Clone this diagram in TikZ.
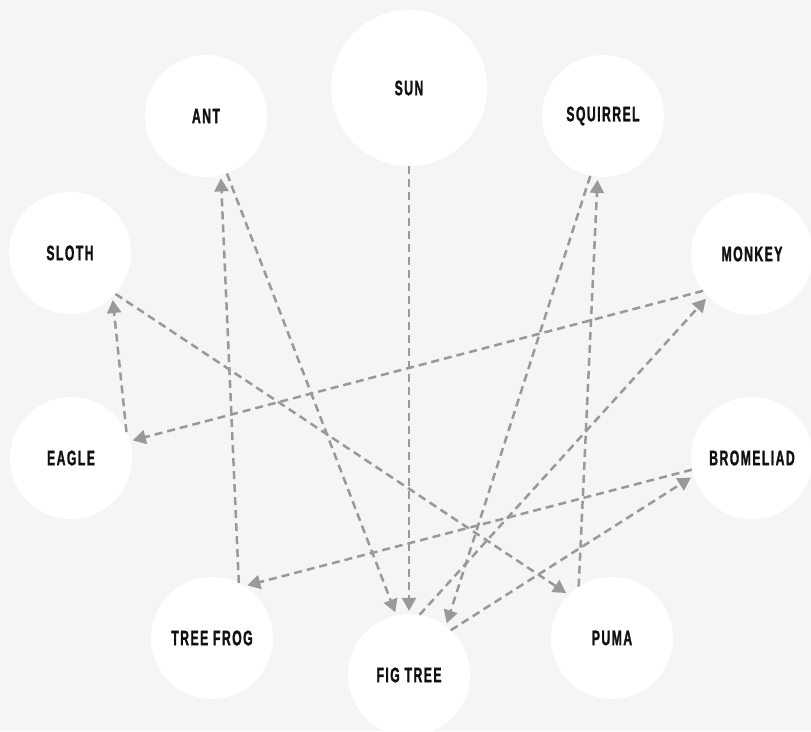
\documentclass[tikz,border=0pt]{standalone}
\usepackage{fontspec}
\setmainfont{Liberation Sans}[FakeStretch=0.58, LetterSpace=7, BoldFeatures={FakeBold=1.3}]
\usetikzlibrary{arrows.meta}
\definecolor{bg}{HTML}{F5F5F5}
\definecolor{edgegray}{HTML}{999999}
\definecolor{ink}{HTML}{111111}
\begin{document}
\begin{tikzpicture}[x=1pt,y=-1pt,
  animal/.style={circle, fill=white, inner sep=0pt, minimum size=122pt,
    font=\bfseries\fontsize{21}{21}\selectfont, text=ink},
  link/.style={draw=edgegray, line width=2.5pt, dash pattern=on 8pt off 5pt,
    -{Triangle[length=13pt,width=14pt]}, shorten >=3pt}]
\fill[bg] (0,0) rectangle (811,731);
\useasboundingbox (0,0) rectangle (811,731);
\node[animal, minimum size=156pt] (sun) at (409,88) {SUN};
\node[animal] (ant) at (206,116) {ANT};
\node[animal] (squirrel) at (603,116) {SQUIRREL};
\node[animal] (sloth) at (70,253) {SLOTH};
\node[animal] (monkey) at (752,254) {MONKEY};
\node[animal] (eagle) at (71,458) {EAGLE};
\node[animal] (brom) at (752,458) {BROMELIAD};
\node[animal] (tf) at (212,638) {TREE FROG};
\node[animal] (puma) at (612,638) {PUMA};
\node[animal] (fig) at (409,675) {FIG TREE};
\draw[link] (sun.-90) -- (fig.90);
\draw[link] (ant.-70) -- (fig.102);
\draw[link] (tf.64) -- (ant.-76);
\draw[link] (brom.191) -- (tf.58);
\draw[link] (fig.80) -- (monkey.224);
\draw[link] (monkey.217) -- (eagle.16);
\draw[link] (eagle.25) -- (sloth.-46);
\draw[link] (sloth.-42) -- (puma.135);
\draw[link] (puma.123) -- (squirrel.-95);
\draw[link] (squirrel.-102) -- (fig.53);
\draw[link] (fig.47) -- (brom.197);
\end{tikzpicture}
\end{document}
